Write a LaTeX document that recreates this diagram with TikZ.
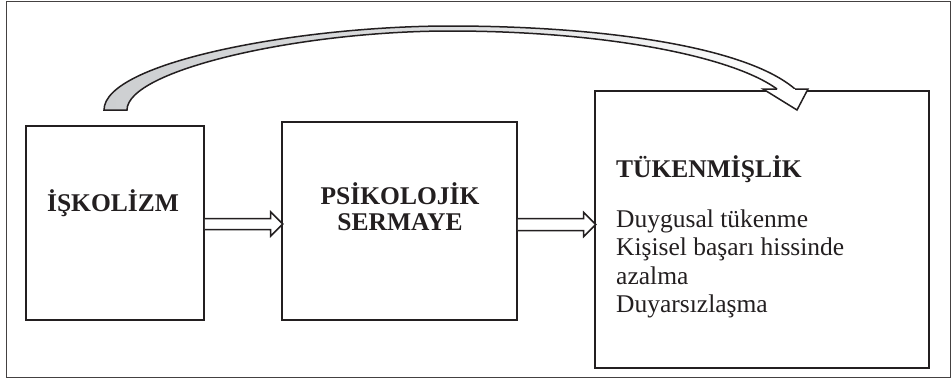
\documentclass[tikz,border=0pt]{standalone}
\usepackage{fontspec}
\setmainfont{Liberation Serif}
\usetikzlibrary{calc}
\definecolor{ink}{RGB}{35,31,32}
\definecolor{bandgray}{RGB}{205,207,209}
\begin{document}
\begin{tikzpicture}[x=1pt,y=-1pt,
  frame/.style={draw=ink!85,line width=0.9pt},
  box/.style={draw=ink,line width=1.6pt,inner sep=0pt,fill=white},
  label/.style={text=ink,inner sep=0pt,font=\fontsize{25.5}{28.5}\selectfont},
  boldlabel/.style={label,font=\fontsize{25.5}{28.5}\selectfont\bfseries},
  blockarr/.style={draw=ink,line width=1.5pt,fill=white,line join=miter},
  band/.style={draw=ink,line width=1.5pt,left color=bandgray,right color=white,middle color=bandgray!70},
  headstyle/.style={draw=ink,line width=1.5pt,fill=white,line join=miter}]
\useasboundingbox (0,0) rectangle (952,381);
\draw[frame] (6,1) rectangle (950,377);
% boxes
\node[box,minimum width=178pt,minimum height=194pt] (b1) at (115,223) {};
\node[box,minimum width=235pt,minimum height=198pt] (b2) at (399.5,221) {};
\node[box,minimum width=334pt,minimum height=277pt] (b3) at (762,229.5) {};
% texts
\node[boldlabel,anchor=base] (t1) at (113,211) {İŞKOLİZM};
\node[boldlabel,anchor=base] (t2a) at (400,204) {PSİKOLOJİK};
\node[boldlabel,anchor=base] (t2b) at (400,230) {SERMAYE};
\node[boldlabel,anchor=base west] (t3) at (616,177) {TÜKENMİŞLİK};
\node[label,anchor=base west] (l1) at (616,227) {Duygusal tükenme};
\node[label,anchor=base west] (l2) at (616,255.5) {Kişisel başarı hissinde};
\node[label,anchor=base west] (l3) at (616,284) {azalma};
\node[label,anchor=base west] (l4) at (616,312.5) {Duyarsızlaşma};
% straight block arrows
\coordinate (a1s) at (b1.east|-0,224);
\coordinate (a1e) at ($(b2.west|-0,224)+(1.5,0)$);
\coordinate (a2s) at (b2.east|-0,224.5);
\coordinate (a2e) at ($(b3.west|-0,224.5)+(1.5,0)$);
\draw[blockarr] ($(a1s)+(0,-5.5)$) -- ($(a1e)+(-12,-5.5)$) -- ($(a1e)+(-12,-12)$) -- (a1e)
  -- ($(a1e)+(-12,12)$) -- ($(a1e)+(-12,5.5)$) -- ($(a1s)+(0,5.5)$);
\draw[blockarr] ($(a2s)+(0,-6)$) -- ($(a2e)+(-12,-6)$) -- ($(a2e)+(-12,-12)$) -- (a2e)
  -- ($(a2e)+(-12,12)$) -- ($(a2e)+(-12,6)$) -- ($(a2s)+(0,6)$);
% curved arrow from b1 to b3
\coordinate (cs1) at (104,110);
\coordinate (cs2) at (127,110);
\coordinate (ce1) at (795,89);
\coordinate (ce2) at (777,89);
\filldraw[band] (ce2) .. controls (730,55) and (600,31) .. (450,31)
  .. controls (300,31) and (127,70) .. (cs2) -- (cs1)
  .. controls (104,62) and (300,26) .. (450,26)
  .. controls (600,26) and (745,46) .. (ce1);
\filldraw[headstyle] (ce2) -- (763,89) -- (797,110) -- (808,89) -- (ce1);
\end{tikzpicture}
\end{document}
